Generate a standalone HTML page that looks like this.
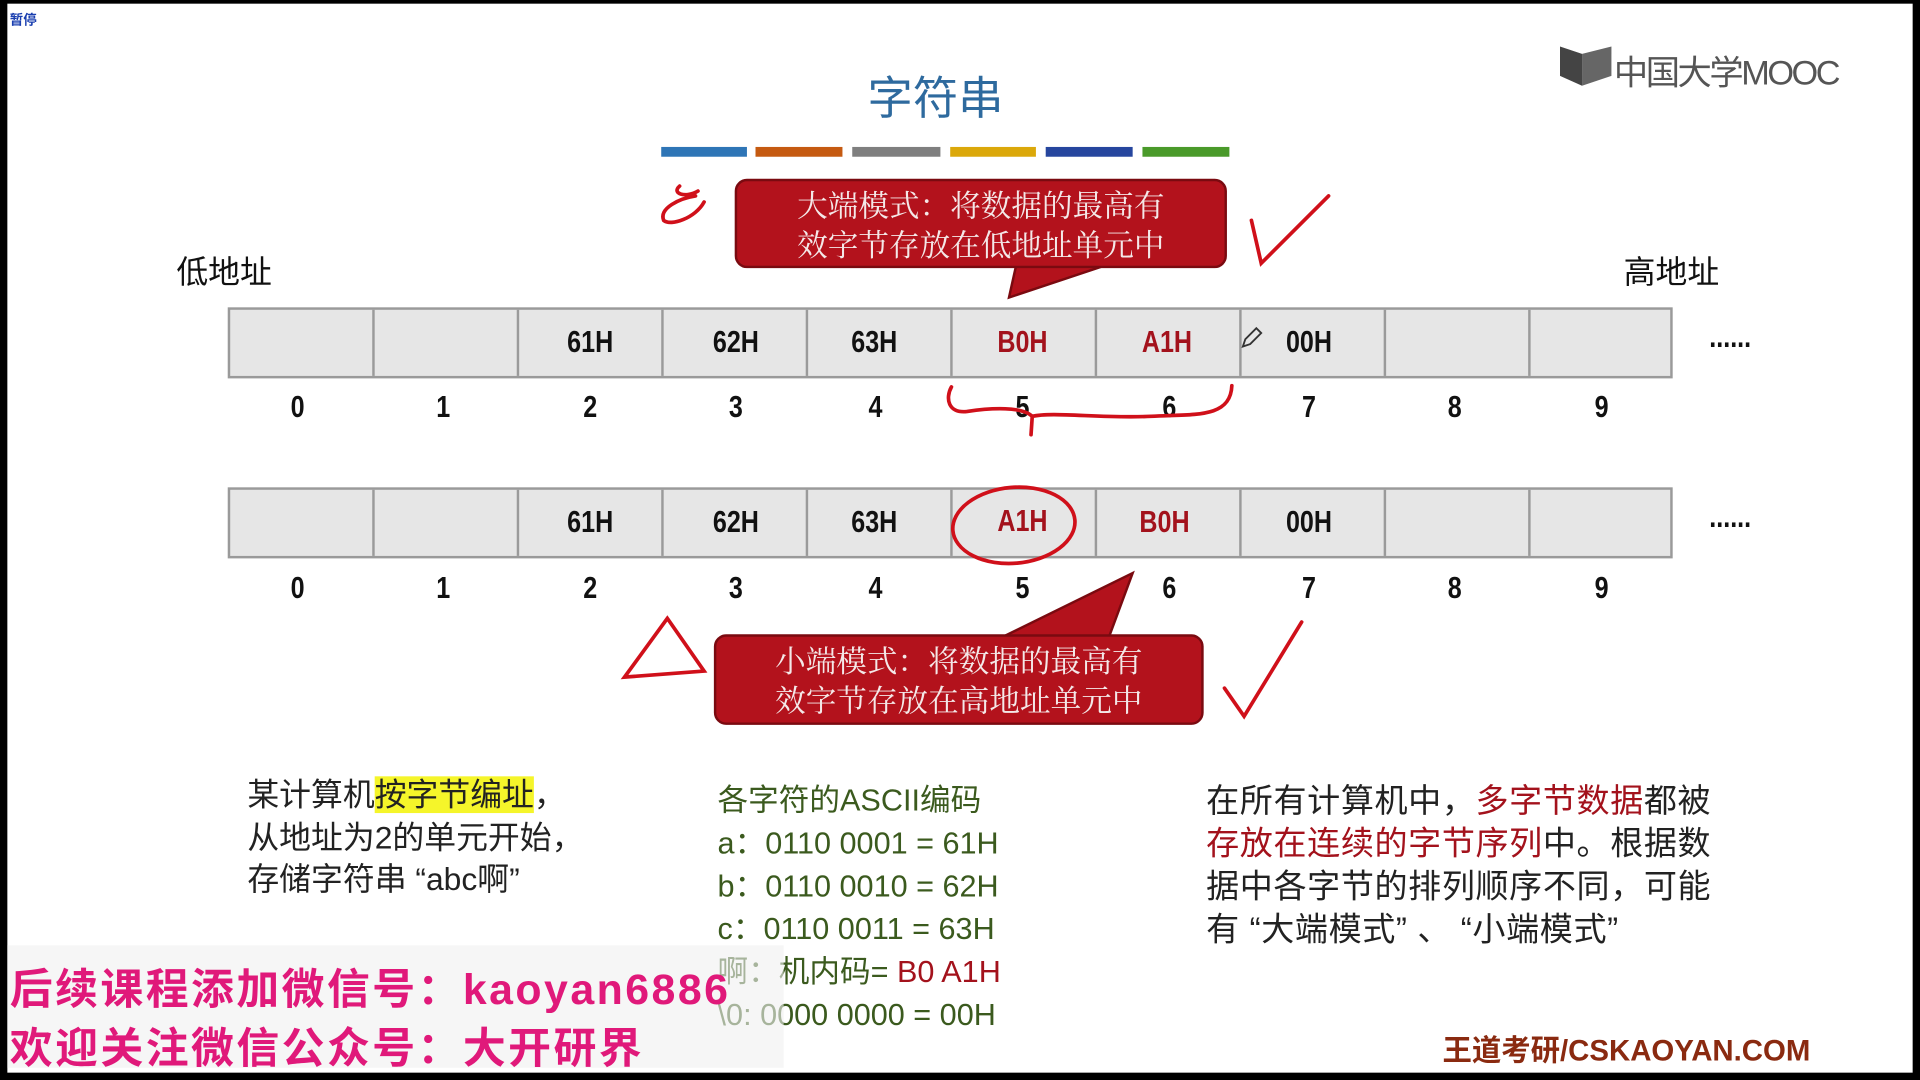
<!DOCTYPE html>
<html><head><meta charset="utf-8"><style>
html,body{margin:0;padding:0;background:#000;}
#wrap{width:1920px;height:1080px;overflow:hidden;position:relative;background:#000;}
#s{position:absolute;left:0;top:0;width:1568px;height:882px;transform:scale(1.22449);transform-origin:0 0;background:#000;}
#p{position:absolute;left:6px;top:3px;width:1556px;height:873px;background:#fff;}
.t{position:absolute;white-space:nowrap;font-family:"Liberation Sans","Noto Sans CJK SC",sans-serif;}
.c{transform:translateX(-50%);}
.cell{position:absolute;top:0;height:100%;border-left:2px solid #9a9a9a;}
.row{position:absolute;left:186px;width:1180px;height:58px;background:#e6e6e6;border:2px solid #9a9a9a;box-sizing:border-box;}
.lb{position:absolute;font-family:"Liberation Sans",sans-serif;font-size:25px;font-weight:bold;transform:translate(-50%,-50%) scaleX(0.82);color:#111;}
.r{color:#a3121c;}
.call{position:absolute;background:#b3121c;border:2px solid #7a0a10;border-radius:10px;color:#f4e8e8;font-family:"Noto Serif CJK SC","Liberation Serif",serif;font-size:25px;line-height:32px;text-align:center;box-sizing:border-box;padding-top:3px;}
.g{color:#3b5a1e;font-size:24px;}
.wm{color:#e0197a;font-weight:bold;font-size:35px;font-family:"Liberation Sans","Noto Sans CJK SC",sans-serif;letter-spacing:2px;}
</style></head><body><div id="wrap"><div id="s">
<div id="p"></div>
<div class="t" style="left:8px;top:8px;font-size:11px;color:#1a3fb0;font-weight:bold;">暂停</div>
<div class="t c" style="left:764px;top:50px;font-size:37px;color:#2e6a9e;">字符串</div>
<div style="position:absolute;top:120px;left:540px;width:70px;height:8px;background:#2e75b6"></div>
<div style="position:absolute;top:120px;left:617px;width:71px;height:8px;background:#c55a11"></div>
<div style="position:absolute;top:120px;left:696px;width:72px;height:8px;background:#7f7f7f"></div>
<div style="position:absolute;top:120px;left:776px;width:70px;height:8px;background:#dba80a"></div>
<div style="position:absolute;top:120px;left:854px;width:71px;height:8px;background:#26469e"></div>
<div style="position:absolute;top:120px;left:933px;width:71px;height:8px;background:#4a9a2a"></div>
<svg style="position:absolute;left:1272px;top:36px" width="46" height="36"><path d="M2 2 L20 8 L20 34 L2 26Z" fill="#444"/><path d="M20 8 L44 2 L44 26 L20 34Z" fill="#666"/></svg>
<div class="t" style="left:1318px;top:38px;font-size:28px;color:#555;letter-spacing:-2px;">中国大学MOOC</div>
<svg style="position:absolute;left:0;top:0" width="1568" height="882">
<polygon points="830,216 905,216 824,243" fill="#b3121c" stroke="#7a0a10" stroke-width="2"/>
<polygon points="815,522 905,522 925,468" fill="#b3121c" stroke="#7a0a10" stroke-width="2"/>
</svg>
<div class="call" style="left:600px;top:146px;width:402px;height:73px;">大端模式：将数据的最高有<br>效字节存放在低地址单元中</div>
<div class="call" style="left:583px;top:518px;width:400px;height:74px;">小端模式：将数据的最高有<br>效字节存放在高地址单元中</div>
<div class="t c" style="left:183px;top:202px;font-size:26px;color:#111;">低地址</div>
<div class="t c" style="left:1365px;top:202px;font-size:26px;color:#111;">高地址</div>
<div class="row" style="top:251px;"><div class="cell" style="left:116px"></div><div class="cell" style="left:234px"></div><div class="cell" style="left:352px"></div><div class="cell" style="left:470px"></div><div class="cell" style="left:588px"></div><div class="cell" style="left:706px"></div><div class="cell" style="left:824px"></div><div class="cell" style="left:942px"></div><div class="cell" style="left:1060px"></div></div>
<div class="row" style="top:398px;"><div class="cell" style="left:116px"></div><div class="cell" style="left:234px"></div><div class="cell" style="left:352px"></div><div class="cell" style="left:470px"></div><div class="cell" style="left:588px"></div><div class="cell" style="left:706px"></div><div class="cell" style="left:824px"></div><div class="cell" style="left:942px"></div><div class="cell" style="left:1060px"></div></div>
<div class="lb" style="left:482px;top:280px">61H</div><div class="lb" style="left:601px;top:280px">62H</div><div class="lb" style="left:714px;top:280px">63H</div><div class="lb r" style="left:835px;top:280px">B0H</div><div class="lb r" style="left:953px;top:280px">A1H</div><div class="lb" style="left:1069px;top:280px">00H</div>
<div class="lb" style="left:482px;top:427px">61H</div><div class="lb" style="left:601px;top:427px">62H</div><div class="lb" style="left:714px;top:427px">63H</div><div class="lb r" style="left:835px;top:426px">A1H</div><div class="lb r" style="left:951px;top:427px">B0H</div><div class="lb" style="left:1069px;top:427px">00H</div>
<div class="lb" style="left:1413px;top:276px">......</div><div class="lb" style="left:1413px;top:423px">......</div>
<div class="lb" style="left:243px;top:333px">0</div><div class="lb" style="left:362px;top:333px">1</div><div class="lb" style="left:482px;top:333px">2</div><div class="lb" style="left:601px;top:333px">3</div><div class="lb" style="left:715px;top:333px">4</div><div class="lb" style="left:835px;top:333px">5</div><div class="lb" style="left:955px;top:333px">6</div><div class="lb" style="left:1069px;top:333px">7</div><div class="lb" style="left:1188px;top:333px">8</div><div class="lb" style="left:1308px;top:333px">9</div>
<div class="lb" style="left:243px;top:481px">0</div><div class="lb" style="left:362px;top:481px">1</div><div class="lb" style="left:482px;top:481px">2</div><div class="lb" style="left:601px;top:481px">3</div><div class="lb" style="left:715px;top:481px">4</div><div class="lb" style="left:835px;top:481px">5</div><div class="lb" style="left:955px;top:481px">6</div><div class="lb" style="left:1069px;top:481px">7</div><div class="lb" style="left:1188px;top:481px">8</div><div class="lb" style="left:1308px;top:481px">9</div>
<svg style="position:absolute;left:0;top:0" width="1568" height="882" fill="none" stroke="#d0101a" stroke-width="3" stroke-linecap="round">
<path d="M555 152 C548 158 560 162 570 156 M568 160 C555 162 538 170 542 180 C548 185 568 178 575 165"/>
<path d="M1022 180 L1030 215 L1085 160"/>
<path d="M777 316 C772 325 774 338 790 336 C810 333 835 332 843 340 L842 355 M843 340 C860 336 900 342 940 340 C975 338 1005 342 1006 315"/>
<ellipse cx="828" cy="429" rx="50" ry="31" transform="rotate(-5 828 429)"/>
<path d="M545 505 L510 553 L575 548 Z"/>
<path d="M1000 562 L1016 585 L1063 508"/>
</svg>
<svg style="position:absolute;left:1012px;top:266px" width="20" height="20"><path d="M3 17 L5 11 L14 2 L18 6 L9 15 Z" fill="none" stroke="#333" stroke-width="1.5"/></svg>
<div class="t" style="left:202px;top:632px;font-size:26px;line-height:34.5px;color:#222;">某计算机<span style="background:#f5f52a">按字节编址</span>，<br>从地址为2的单元开始，<br>存储字符串 “abc啊”</div>
<div class="t g" style="left:586px;top:637px;line-height:35px;font-size:25px;">各字符的ASCII编码<br>a：0110 0001 = 61H<br>b：0110 0010 = 62H<br>c：0110 0011 = 63H<br>啊：机内码= <span style="color:#a3121c">B0 A1H</span><br>\0: 0000 0000 = 00H</div>
<div class="t" style="left:985px;top:637px;font-size:27px;line-height:35px;color:#222;letter-spacing:0.5px;">在所有计算机中，<span class="r">多字节数据</span>都被<br><span class="r">存放在连续的字节序列</span>中。根据数<br>据中各字节的排列顺序不同，可能<br>有 “大端模式” 、 “小端模式”</div>
<div style="position:absolute;left:6px;top:772px;width:634px;height:100px;background:rgba(240,240,240,0.6)"></div>
<div class="t wm" style="left:8px;top:780px;">后续课程添加微信号：kaoyan6886</div>
<div class="t wm" style="left:8px;top:828px;">欢迎关注微信公众号：大开研界</div>
<div class="t" style="left:1178px;top:838px;font-size:24px;font-weight:bold;color:#8a2a10;">王道考研/CSKAOYAN.COM</div>
</div></div></body></html>
